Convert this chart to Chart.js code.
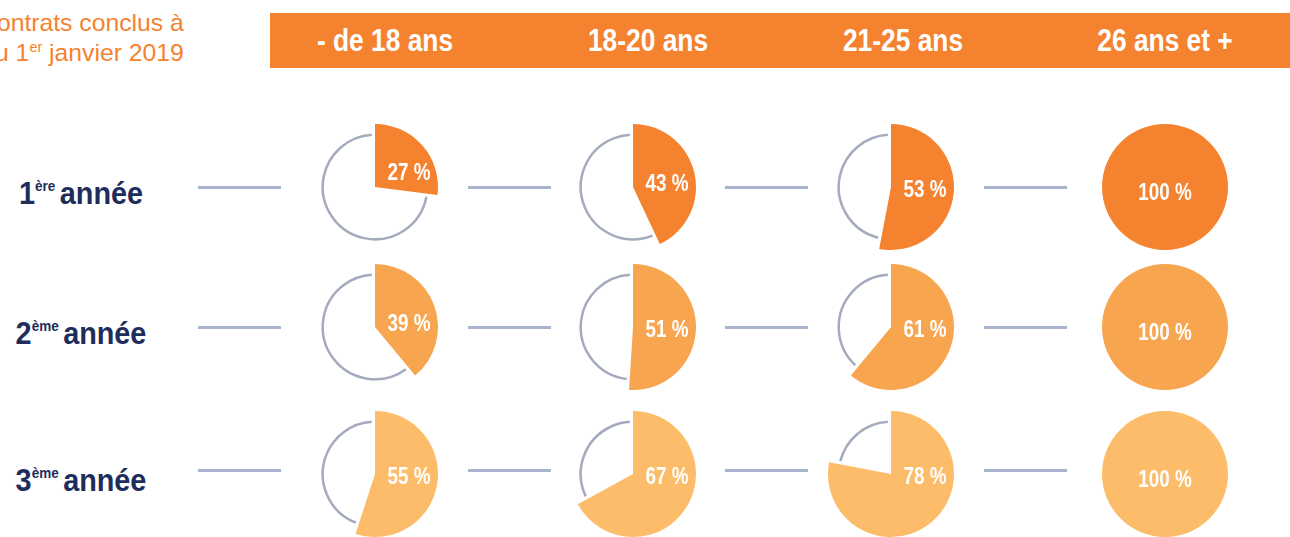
<!DOCTYPE html>
<html>
<head>
<meta charset="utf-8">
<script src="https://cdn.jsdelivr.net/npm/chart.js@4.4.1/dist/chart.umd.min.js"></script>
<style>
  html, body { margin: 0; padding: 0; background: #fff; }
  body { width: 1290px; height: 537px; position: relative; overflow: hidden;
         font-family: "Liberation Sans", Arial, sans-serif; }
  .intro { position: absolute; left: 0; top: 8px; width: 184px; height: 64px; overflow: hidden; }
  .intro div { position: absolute; right: 0; top: 0; text-align: right; white-space: nowrap;
               color: #F4822F; font-size: 24px; line-height: 30px;
               transform: scaleX(1.03); transform-origin: right center; }
  .intro sup { font-size: 14px; vertical-align: 9px; line-height: 0; }
  .bar { position: absolute; left: 270px; top: 13px; width: 1020px; height: 55px; background: #F4822F; }
  .head { position: absolute; top: 13px; height: 55px; line-height: 56px; color: #fff;
          font-weight: bold; font-size: 31px; white-space: nowrap;
          transform: translateX(-50%) scaleX(0.85); transform-origin: center; }
  .row { position: absolute; color: #1D2D5C; font-weight: bold; font-size: 32px;
         transform: translate(-50%, -50%) scaleX(0.9); transform-origin: center; white-space: nowrap; }
  .row sup { font-size: 15px; vertical-align: 13px; line-height: 0; margin-right: 5px; }
  .link { position: absolute; height: 3px; background: #AAB4CF; }
  canvas { position: absolute; }
</style>
</head>
<body>
<div class="intro"><div>Contrats conclus à<br>au 1<sup>er</sup> janvier 2019</div></div>
<div class="bar"></div>
<script>
// ---- data ----
var ageGroups = ["- de 18 ans", "18-20 ans", "21-25 ans", "26 ans et +"];
var yearNums = ["1", "2", "3"];
var yearSups = ["ère", "ème", "ème"];
var year1 = [27, 43, 53, 100];
var year2 = [39, 51, 61, 100];
var year3 = [55, 67, 78, 100];

// ---- layout ----
var series = [year1, year2, year3];
var rowColors = ["#F4822F", "#F8A54F", "#FDBC69"];
var colX = [375, 633, 891, 1165];
var headX = [385, 648, 903, 1165];
var rowY = [187, 327, 474];
var lineY = [187, 327, 470];
var linkStart = [198, 468, 725, 984];
var SIZE = 140;

ageGroups.forEach(function (g, i) {
  var d = document.createElement("div");
  d.className = "head";
  d.style.left = headX[i] + "px";
  d.textContent = g;
  document.body.appendChild(d);
});

yearNums.forEach(function (n, r) {
  var d = document.createElement("div");
  d.className = "row";
  d.style.left = "81px";
  d.style.top = rowY[r] + 6 + "px";
  d.innerHTML = n + "<sup>" + yearSups[r] + "</sup>année";
  document.body.appendChild(d);
  linkStart.forEach(function (x) {
    var l = document.createElement("div");
    l.className = "link";
    l.style.left = x + "px";
    l.style.width = "83px";
    l.style.top = lineY[r] - 1 + "px";
    document.body.appendChild(l);
  });
});

// draws the grey ring over the empty part + the percentage label
var ringPlugin = {
  id: "ring",
  afterDatasetsDraw: function (chart) {
    var ctx = chart.ctx;
    var meta = chart.getDatasetMeta(0);
    var filled = meta.data[0], rest = meta.data[1];
    var value = chart.data.datasets[0].data[0];
    var gap = 0.06;
    ctx.save();
    if (chart.data.datasets[0].data[1] > 0) {
      ctx.beginPath();
      ctx.arc(rest.x, rest.y, rest.outerRadius * 0.83, rest.startAngle + gap, rest.endAngle - gap);
      ctx.strokeStyle = "#A3ABBD";
      ctx.lineWidth = 2.5;
      ctx.stroke();
    }
    var dx = value >= 100 ? 0 : 34;
    var dy = value < 35 ? -13 : (value < 45 ? -2 : 4);
    if (value >= 100) dy = 7;
    ctx.translate(filled.x + dx, filled.y + dy);
    ctx.scale(0.82, 1);
    ctx.fillStyle = "#fff";
    ctx.font = 'bold 23px "Liberation Sans", Arial, sans-serif';
    ctx.textAlign = "center";
    ctx.textBaseline = "middle";
    ctx.fillText(value + " %", 0, 0);
    ctx.restore();
  }
};

series.forEach(function (vals, r) {
  vals.forEach(function (v, c) {
    var cv = document.createElement("canvas");
    cv.width = SIZE; cv.height = SIZE;
    cv.style.left = colX[c] - SIZE / 2 + "px";
    cv.style.top = rowY[r] - SIZE / 2 + "px";
    document.body.appendChild(cv);
    new Chart(cv, {
      type: "pie",
      data: {
        labels: [ageGroups[c], ""],
        datasets: [{
          data: [v, 100 - v],
          backgroundColor: [rowColors[r], "rgba(0,0,0,0)"],
          borderWidth: 0
        }]
      },
      options: {
        responsive: false,
        animation: false,
        layout: { padding: 7 },
        plugins: { legend: { display: false }, tooltip: { enabled: false } }
      },
      plugins: [ringPlugin]
    });
  });
});
</script>
</body>
</html>
